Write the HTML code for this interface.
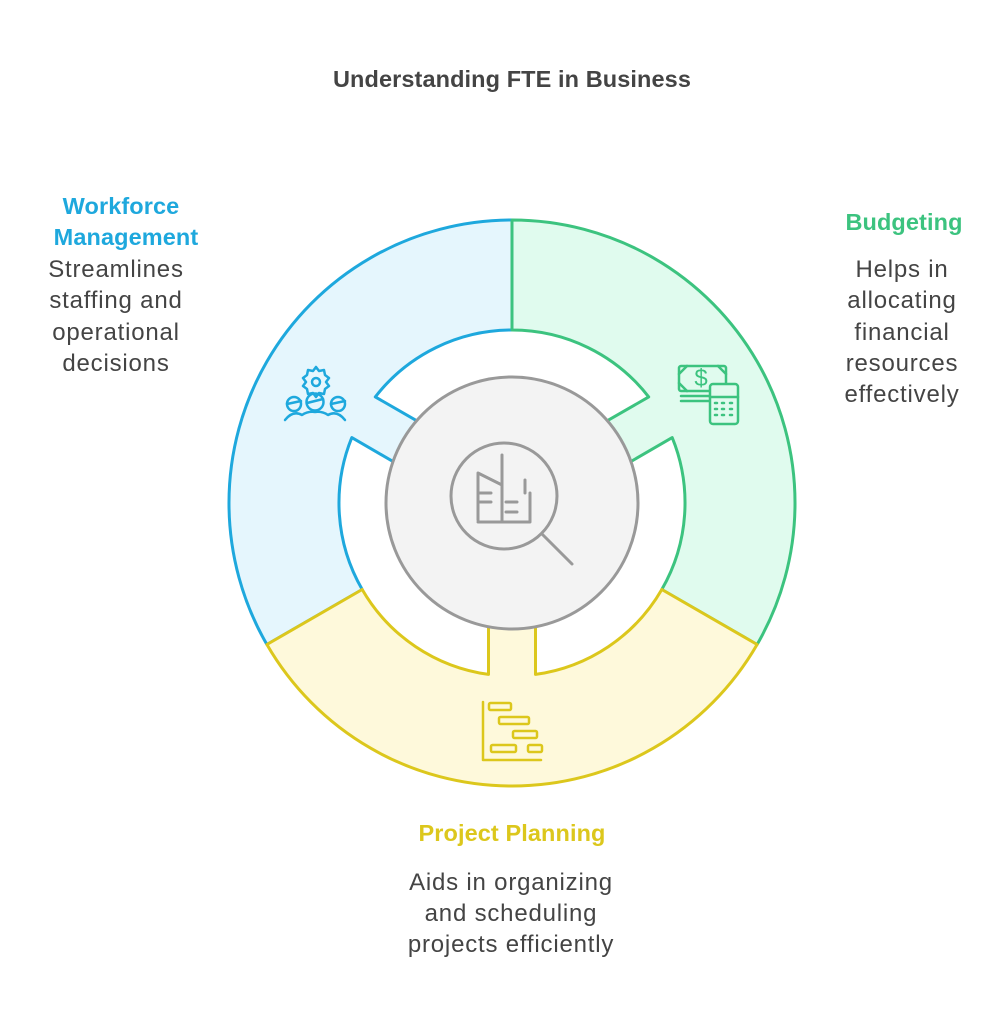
<!DOCTYPE html>
<html><head><meta charset="utf-8"><style>
body{margin:0;background:#fff;}
svg{display:block;}
text{font-family:"Liberation Sans",Arial,sans-serif;font-size:24px;letter-spacing:0.8px;}
.b{font-weight:bold;letter-spacing:0.1px;font-size:23.5px;}
</style></head><body>
<svg width="1008" height="1024" viewBox="0 0 1008 1024">
<rect width="1008" height="1024" fill="#fff"/>
<text x="512" y="87" text-anchor="middle" class="b" fill="#444">Understanding FTE in Business</text>

<path d="M266.9,644.5 A283,283 0 0 1 512,220 L512,330 A173,173 0 0 0 375.3,396.9 L416.4,420.6 L392.9,461.4 L351.8,437.6 A173,173 0 0 0 362.2,589.5 Z" fill="#e5f6fd" stroke="#1ea8dd" stroke-width="3" stroke-linejoin="round"/>
<path d="M512,220 A283,283 0 0 1 757.1,644.5 L661.8,589.5 A173,173 0 0 0 672.2,437.6 L631.1,461.4 L607.6,420.6 L648.7,396.9 A173,173 0 0 0 512,330 Z" fill="#e0fbee" stroke="#3cc37f" stroke-width="3" stroke-linejoin="round"/>
<path d="M757.1,644.5 A283,283 0 0 1 266.9,644.5 L362.2,589.5 A173,173 0 0 0 488.5,674.4 L488.5,627 L535.5,627 L535.5,674.4 A173,173 0 0 0 661.8,589.5 Z" fill="#fef9db" stroke="#dcc71c" stroke-width="3" stroke-linejoin="round"/>

<circle cx="512" cy="503" r="126" fill="#f3f3f3" stroke="#999" stroke-width="3"/>
<g fill="none" stroke="#999" stroke-width="3" stroke-linecap="round" stroke-linejoin="round">
<circle cx="504" cy="496" r="53"/>
<line x1="543" y1="535" x2="572" y2="564"/>
<path d="M478,520 V473 L502,485 V522 M502,455 V522 M478,522 H530 V493 M525,493 V480 M478,493 H491 M478,502 H491 M506,502 H517 M506,512 H517"/>
</g>

<g fill="none" stroke="#1ea8dd" stroke-width="2.5" stroke-linecap="round" stroke-linejoin="round">
<path d="M316,367 l3,4 5,-1 1,5 4,3 -3,4 3,4 -4,3 -1,5 -5,-1 -3,4 -3,-4 -5,1 -1,-5 -4,-3 3,-4 -3,-4 4,-3 1,-5 5,1 z"/>
<circle cx="316" cy="382" r="4"/>
<circle cx="294" cy="404" r="7"/><circle cx="315" cy="402" r="8.5"/><circle cx="338" cy="404" r="7"/>
<path d="M287,404 l14,-3 M307,403 l16,-4 M331,404 l14,-3"/>
<path d="M285,420 q8,-10 17,-5 q6,-4 13,-3 q7,-1 13,3 q9,-5 17,5"/>
</g>

<g fill="none" stroke="#3cc37f" stroke-width="2.5" stroke-linecap="round" stroke-linejoin="round">
<rect x="679" y="366" width="47" height="25" rx="2"/>
<path d="M679,374 l8,-8 M718,366 l8,8 M679,383 l8,8"/>
<text x="701" y="386" text-anchor="middle" font-size="17" fill="#3cc37f" stroke="none" style="letter-spacing:0">$</text>
<path d="M681,396 h28 M681,401 h28"/>
<rect x="710" y="384" width="28" height="40" rx="3" fill="#e0fbee"/>
<path d="M710,397 h28 M715,403 h2 M722,403 h2 M730,403 h2 M715,409 h2 M722,409 h2 M730,409 h2 M715,415 h2 M722,415 h2 M730,415 h2"/>
</g>

<g fill="none" stroke="#dcc71c" stroke-width="2.5" stroke-linecap="round" stroke-linejoin="round">
<path d="M483,702 V760 H541"/>
<rect x="489" y="703" width="22" height="7" rx="1.5"/>
<rect x="499" y="717" width="30" height="7" rx="1.5"/>
<rect x="513" y="731" width="24" height="7" rx="1.5"/>
<rect x="491" y="745" width="25" height="7" rx="1.5"/>
<rect x="528" y="745" width="14" height="7" rx="1.5"/>
</g>

<text x="121" y="214" text-anchor="middle" class="b" fill="#1ea8dd">Workforce</text>
<text x="126" y="245" text-anchor="middle" class="b" fill="#1ea8dd">Management</text>
<g fill="#444" text-anchor="middle">
<text x="116" y="277">Streamlines</text>
<text x="116" y="308">staffing and</text>
<text x="116" y="340">operational</text>
<text x="116" y="371">decisions</text>
</g>
<text x="904" y="230" text-anchor="middle" class="b" fill="#3cc37f">Budgeting</text>
<g fill="#444" text-anchor="middle">
<text x="902" y="277">Helps in</text>
<text x="902" y="308">allocating</text>
<text x="902" y="340">financial</text>
<text x="902" y="371">resources</text>
<text x="902" y="402">effectively</text>
</g>
<text x="512" y="841" text-anchor="middle" class="b" fill="#dcc71c">Project Planning</text>
<g fill="#444" text-anchor="middle">
<text x="511" y="890">Aids in organizing</text>
<text x="511" y="921">and scheduling</text>
<text x="511" y="952">projects efficiently</text>
</g>
</svg>
</body></html>
